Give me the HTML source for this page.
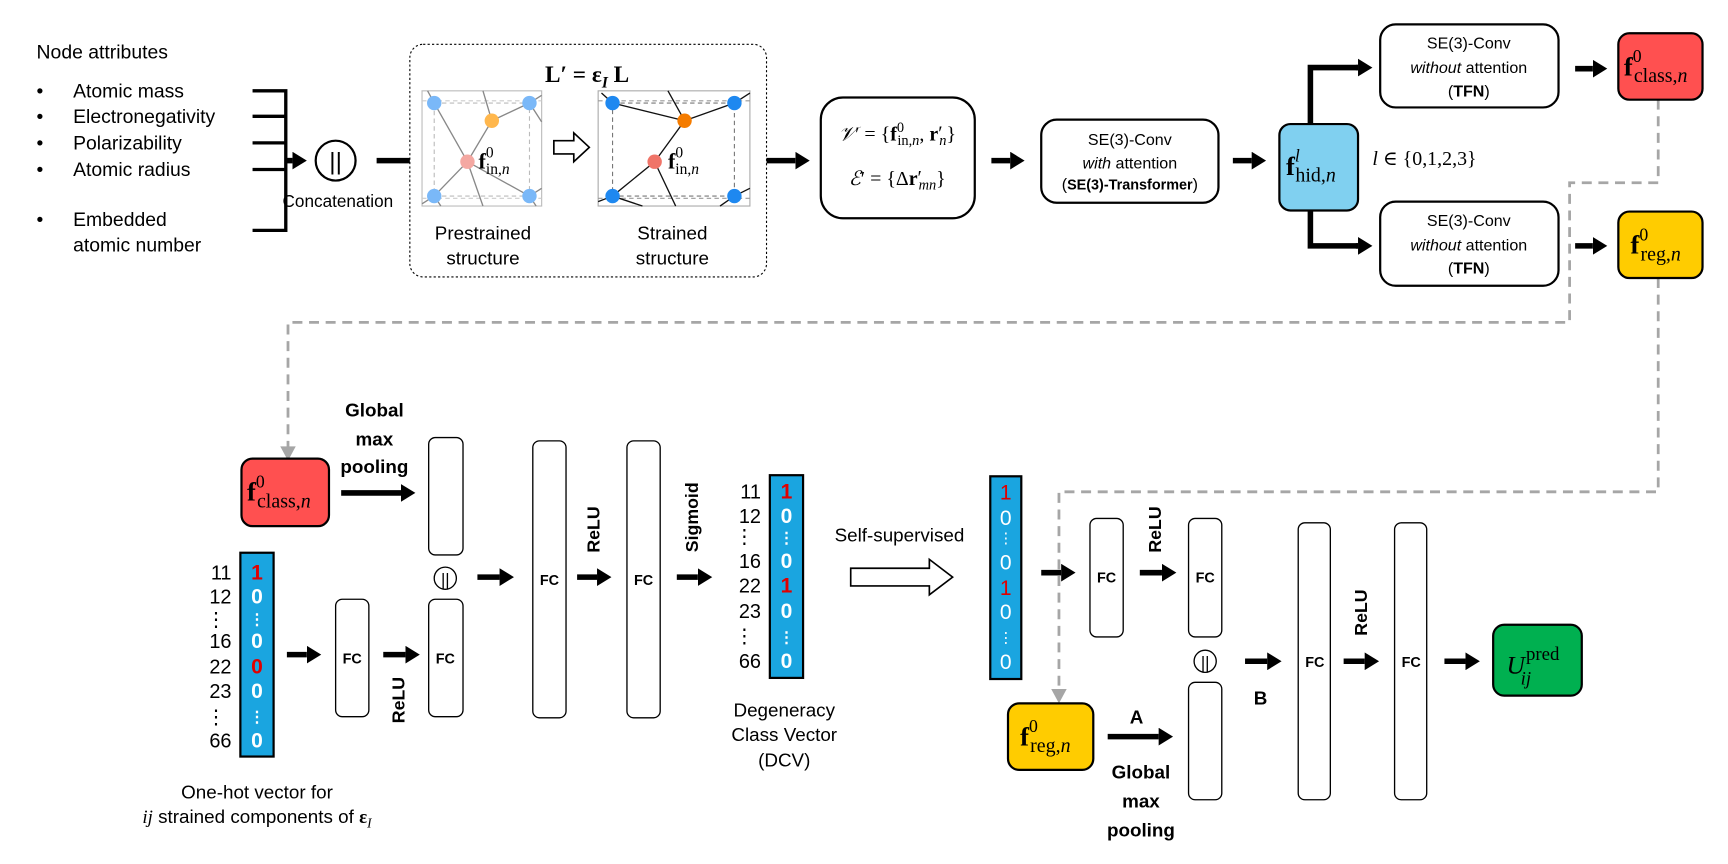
<!DOCTYPE html>
<html><head><meta charset="utf-8"><style>
html,body{margin:0;padding:0;background:#fff;}
svg{display:block;}
text{font-family:"Liberation Sans",Arial,sans-serif;}
.s{font-family:"Liberation Serif","DejaVu Serif",serif;}
.b{font-weight:bold;}
</style></head><body>
<svg width="1728" height="864" viewBox="0 0 1560 780" xmlns="http://www.w3.org/2000/svg">
<defs>
<marker id="ah" markerUnits="userSpaceOnUse" markerWidth="14" markerHeight="16" refX="0" refY="8" orient="auto">
<path d="M0,0 L13,8 L0,16 Z" fill="#000"/></marker>
</defs>
<rect width="1560" height="780" fill="#fff"/>

<g font-size="17.5" fill="#000">
<text x="33" y="53">Node attributes</text>
<text x="33" y="88">•</text><text x="66" y="88">Atomic mass</text>
<text x="33" y="111">•</text><text x="66" y="111">Electronegativity</text>
<text x="33" y="135">•</text><text x="66" y="135">Polarizability</text>
<text x="33" y="159">•</text><text x="66" y="159">Atomic radius</text>
<text x="33" y="204">•</text><text x="66" y="204">Embedded</text>
<text x="66" y="227">atomic number</text>
</g>
<g stroke="#000" stroke-width="3" fill="none">
<path d="M228,82 H258 M228,105 H258 M228,129 H258 M228,153 H258 M228,208 H259 M258,80.5 V209.5"/>
</g>
<line x1="258" y1="145" x2="264" y2="145" stroke="#000" stroke-width="5" marker-end="url(#ah)"/>
<circle cx="303" cy="145" r="18" fill="#fff" stroke="#000" stroke-width="2"/>
<text x="303" y="153" font-size="22" text-anchor="middle">||</text>
<text x="305" y="187" font-size="15.5" text-anchor="middle">Concatenation</text>
<line x1="340" y1="145" x2="370" y2="145" stroke="#000" stroke-width="5"/>

<rect x="370" y="40" width="322" height="210" rx="12" fill="none" stroke="#000" stroke-width="1" stroke-dasharray="2,2"/>
<text x="530" y="74" font-size="21" class="s b" text-anchor="middle">L′ = ε<tspan font-size="14" font-style="italic" dy="5">I</tspan><tspan dy="-5"> L</tspan></text>

<rect x="381" y="82" width="108" height="104" fill="#fff" stroke="#bbb" stroke-width="1"/>
<rect x="392" y="93" width="86" height="84" fill="none" stroke="#bbb" stroke-width="1" stroke-dasharray="4,3"/>
<line x1="381" y1="91" x2="489" y2="91" stroke="#ccc" stroke-dasharray="4,3"/>
<line x1="381" y1="179" x2="489" y2="179" stroke="#ccc" stroke-dasharray="4,3"/>
<g stroke="#888" stroke-width="1.2">
<line x1="392" y1="93" x2="422" y2="146"/><line x1="422" y1="146" x2="444" y2="109"/>
<line x1="444" y1="109" x2="478" y2="93"/><line x1="436" y1="82" x2="444" y2="109"/>
<line x1="392" y1="93" x2="386" y2="82"/><line x1="422" y1="146" x2="392" y2="177"/>
<line x1="422" y1="146" x2="478" y2="177"/><line x1="422" y1="146" x2="436" y2="186"/>
<line x1="478" y1="93" x2="489" y2="86"/><line x1="392" y1="177" x2="381" y2="184"/>
<line x1="478" y1="177" x2="489" y2="170"/><line x1="392" y1="177" x2="398" y2="186"/>
<line x1="478" y1="93" x2="489" y2="110"/><line x1="478" y1="177" x2="484" y2="186"/>
</g>
<circle cx="392" cy="93" r="6.5" fill="#7ab8f8"/><circle cx="478" cy="93" r="6.5" fill="#7ab8f8"/>
<circle cx="392" cy="177" r="6.5" fill="#7ab8f8"/><circle cx="478" cy="177" r="6.5" fill="#7ab8f8"/>
<circle cx="444" cy="109" r="6.5" fill="#ffb74d"/><circle cx="422" cy="146" r="6.5" fill="#f4a8a2"/>
<text x="432" y="152" font-size="20" class="s b">f<tspan font-size="14" font-weight="normal" dy="-10">0</tspan><tspan font-size="14" font-weight="normal" dx="-7" dy="15">in,<tspan font-style="italic">n</tspan></tspan></text>

<path d="M500,127 H518 V120 L532,133 L518,146 V139 H500 Z" fill="#fff" stroke="#000" stroke-width="1.5"/>

<rect x="540" y="82" width="137" height="104" fill="#fff" stroke="#aaa" stroke-width="1"/>
<rect x="553" y="93" width="110" height="84" fill="none" stroke="#777" stroke-width="1" stroke-dasharray="4,3"/>
<line x1="540" y1="91" x2="677" y2="91" stroke="#999" stroke-dasharray="4,3"/>
<line x1="540" y1="179" x2="677" y2="179" stroke="#999" stroke-dasharray="4,3"/>
<g stroke="#111" stroke-width="1.2">
<line x1="553" y1="93" x2="618" y2="109"/><line x1="618" y1="109" x2="663" y2="93"/>
<line x1="603" y1="82" x2="618" y2="109"/><line x1="618" y1="109" x2="591" y2="146"/>
<line x1="591" y1="146" x2="553" y2="177"/><line x1="591" y1="146" x2="610" y2="186"/>
<line x1="553" y1="93" x2="543" y2="84"/><line x1="663" y1="93" x2="677" y2="84"/>
<line x1="553" y1="177" x2="540" y2="182"/><line x1="553" y1="177" x2="580" y2="186"/>
<line x1="663" y1="177" x2="677" y2="170"/><line x1="663" y1="177" x2="650" y2="186"/>
</g>
<circle cx="553" cy="93" r="6.5" fill="#1e88f0"/><circle cx="663" cy="93" r="6.5" fill="#1e88f0"/>
<circle cx="553" cy="177" r="6.5" fill="#1e88f0"/><circle cx="663" cy="177" r="6.5" fill="#1e88f0"/>
<circle cx="618" cy="109" r="6.5" fill="#f57c00"/><circle cx="591" cy="146" r="6.5" fill="#f07468"/>
<text x="603" y="152" font-size="20" class="s b">f<tspan font-size="14" font-weight="normal" dy="-10">0</tspan><tspan font-size="14" font-weight="normal" dx="-7" dy="15">in,<tspan font-style="italic">n</tspan></tspan></text>

<g font-size="17" text-anchor="middle">
<text x="436" y="216">Prestrained</text><text x="436" y="239">structure</text>
<text x="607" y="216">Strained</text><text x="607" y="239">structure</text>
</g>

<line x1="692" y1="145" x2="718" y2="145" stroke="#000" stroke-width="5" marker-end="url(#ah)"/>
<rect x="741" y="88" width="139" height="109" rx="20" fill="#fff" stroke="#000" stroke-width="2"/>
<text x="810" y="127" font-size="18" class="s" text-anchor="middle"><tspan font-style="italic">𝒱</tspan>′ = {<tspan font-weight="bold">f</tspan><tspan font-size="13" dy="-8">0</tspan><tspan font-size="13" dx="-6" dy="12">in,<tspan font-style="italic">n</tspan></tspan><tspan dy="-4">, </tspan><tspan font-weight="bold">r</tspan><tspan dy="-1">′</tspan><tspan font-size="13" font-style="italic" dx="-3" dy="5">n</tspan><tspan dy="-4">}</tspan></text>
<text x="810" y="167" font-size="18" class="s" text-anchor="middle"><tspan font-style="italic">ℰ</tspan>′ = {Δ<tspan font-weight="bold">r</tspan><tspan dy="-1">′</tspan><tspan font-size="13" font-style="italic" dx="-3" dy="5">mn</tspan><tspan dy="-4">}</tspan></text>

<line x1="895" y1="145" x2="912" y2="145" stroke="#000" stroke-width="5" marker-end="url(#ah)"/>
<rect x="940" y="108" width="160" height="75" rx="14" fill="#fff" stroke="#000" stroke-width="2"/>
<g font-size="14.5" text-anchor="middle">
<text x="1020" y="131">SE(3)-Conv</text>
<text x="1020" y="152"><tspan font-style="italic">with</tspan> attention</text>
<text x="1020" y="171">(<tspan font-weight="bold" font-size="13">SE(3)-Transformer</tspan>)</text>
</g>
<line x1="1113" y1="145" x2="1130" y2="145" stroke="#000" stroke-width="5" marker-end="url(#ah)"/>
<rect x="1155" y="112" width="71" height="78" rx="10" fill="#80d0f0" stroke="#000" stroke-width="2"/>
<text x="1161" y="158" font-size="24" class="s b">f<tspan font-size="16" font-weight="normal" font-style="italic" dy="-12">l</tspan><tspan font-size="18" font-weight="normal" dx="-4" dy="18">hid,<tspan font-style="italic">n</tspan></tspan></text>
<text x="1239" y="149" font-size="18" class="s"><tspan font-style="italic">l</tspan> ∈ {0,1,2,3}</text>

<path d="M1183,112 V61 H1226" fill="none" stroke="#000" stroke-width="5"/>
<line x1="1224" y1="61" x2="1226" y2="61" stroke="#000" stroke-width="5" marker-end="url(#ah)"/>
<path d="M1183,190 V222 H1226" fill="none" stroke="#000" stroke-width="5"/>
<line x1="1224" y1="222" x2="1226" y2="222" stroke="#000" stroke-width="5" marker-end="url(#ah)"/>

<rect x="1246" y="22" width="161" height="75" rx="14" fill="#fff" stroke="#000" stroke-width="2"/>
<rect x="1246" y="182" width="161" height="76" rx="14" fill="#fff" stroke="#000" stroke-width="2"/>
<g font-size="14.5" text-anchor="middle">
<text x="1326" y="44">SE(3)-Conv</text><text x="1326" y="66"><tspan font-style="italic">without</tspan> attention</text><text x="1326" y="87">(<tspan font-weight="bold">TFN</tspan>)</text>
<text x="1326" y="204">SE(3)-Conv</text><text x="1326" y="226"><tspan font-style="italic">without</tspan> attention</text><text x="1326" y="247">(<tspan font-weight="bold">TFN</tspan>)</text>
</g>

<g fill="none" stroke="#a6a6a6" stroke-width="2.5" stroke-dasharray="9,6">
<path d="M1497,90 V165 H1417 V291 H260 V405"/>
<path d="M1497,251 V444 H956 V625"/>
</g>
<path d="M253,403 L260,416 L267,403 Z" fill="#a6a6a6"/>
<path d="M949,622 L956,635 L963,622 Z" fill="#a6a6a6"/>

<line x1="1422" y1="62" x2="1438" y2="62" stroke="#000" stroke-width="5" marker-end="url(#ah)"/>
<line x1="1422" y1="222" x2="1438" y2="222" stroke="#000" stroke-width="5" marker-end="url(#ah)"/>
<rect x="1461" y="30" width="76" height="60" rx="10" fill="#ff5050" stroke="#000" stroke-width="2"/>
<text x="1466" y="68" font-size="24" class="s b">f<tspan font-size="16" font-weight="normal" dy="-12">0</tspan><tspan font-size="18" font-weight="normal" dx="-7" dy="18">class,<tspan font-style="italic">n</tspan></tspan></text>
<rect x="1461" y="191" width="76" height="60" rx="10" fill="#ffcc00" stroke="#000" stroke-width="2"/>
<text x="1472" y="229" font-size="24" class="s b">f<tspan font-size="16" font-weight="normal" dy="-12">0</tspan><tspan font-size="18" font-weight="normal" dx="-7" dy="18">reg,<tspan font-style="italic">n</tspan></tspan></text>

<rect x="218" y="414" width="79" height="61" rx="10" fill="#ff5050" stroke="#000" stroke-width="2"/>
<text x="223" y="452" font-size="24" class="s b">f<tspan font-size="16" font-weight="normal" dy="-12">0</tspan><tspan font-size="18" font-weight="normal" dx="-7" dy="18">class,<tspan font-style="italic">n</tspan></tspan></text>
<g font-size="17" font-weight="bold" text-anchor="middle">
<text x="338" y="376">Global</text><text x="338" y="402">max</text><text x="338" y="427">pooling</text>
</g>
<line x1="308" y1="445" x2="362" y2="445" stroke="#000" stroke-width="5" marker-end="url(#ah)"/>

<g fill="#fff" stroke="#000" stroke-width="1.2">
<rect x="387" y="395" width="31" height="106" rx="6"/>
<rect x="387" y="541" width="31" height="106" rx="6"/>
<rect x="303" y="541" width="30" height="106" rx="6"/>
<rect x="481" y="398" width="30" height="250" rx="6"/>
<rect x="566" y="398" width="30" height="250" rx="6"/>
<rect x="984" y="468" width="30" height="107" rx="6"/>
<rect x="1073" y="468" width="30" height="107" rx="6"/>
<rect x="1073" y="616" width="30" height="106" rx="6"/>
<rect x="1172" y="472" width="29" height="250" rx="6"/>
<rect x="1259" y="472" width="29" height="250" rx="6"/>
</g>
<circle cx="402" cy="522" r="10" fill="#fff" stroke="#000" stroke-width="1.2"/>
<text x="402" y="528" font-size="15" text-anchor="middle">||</text>
<circle cx="1088" cy="597" r="10" fill="#fff" stroke="#000" stroke-width="1.2"/>
<text x="1088" y="603" font-size="15" text-anchor="middle">||</text>

<g font-size="13" font-weight="bold" text-anchor="middle">
<text x="402" y="599">FC</text><text x="318" y="599">FC</text>
<text x="496" y="528">FC</text><text x="581" y="528">FC</text>
<text x="999" y="526">FC</text><text x="1088" y="526">FC</text>
<text x="1187" y="602">FC</text><text x="1274" y="602">FC</text>
</g>
<g font-size="16" font-weight="bold" text-anchor="middle">
<text transform="translate(365,632) rotate(-90)">ReLU</text>
<text transform="translate(541,478) rotate(-90)">ReLU</text>
<text transform="translate(630,467) rotate(-90)">Sigmoid</text>
<text transform="translate(1048,478) rotate(-90)">ReLU</text>
<text transform="translate(1234,553) rotate(-90)">ReLU</text>
</g>

<g stroke="#000" stroke-width="5">
<line x1="259" y1="591" x2="277" y2="591" marker-end="url(#ah)"/>
<line x1="346" y1="591" x2="366" y2="591" marker-end="url(#ah)"/>
<line x1="431" y1="521" x2="451" y2="521" marker-end="url(#ah)"/>
<line x1="521" y1="521" x2="539" y2="521" marker-end="url(#ah)"/>
<line x1="611" y1="521" x2="630" y2="521" marker-end="url(#ah)"/>
<line x1="940" y1="517" x2="958" y2="517" marker-end="url(#ah)"/>
<line x1="1029" y1="517" x2="1049" y2="517" marker-end="url(#ah)"/>
<line x1="1124" y1="597" x2="1144" y2="597" marker-end="url(#ah)"/>
<line x1="1213" y1="597" x2="1232" y2="597" marker-end="url(#ah)"/>
<line x1="1304" y1="597" x2="1323" y2="597" marker-end="url(#ah)"/>
<line x1="1000" y1="665" x2="1046" y2="665" marker-end="url(#ah)"/>
</g>

<rect x="217" y="499" width="30" height="184" fill="#1aa5e0" stroke="#000" stroke-width="2"/>
<g font-size="18" class="s" text-anchor="end">
<text x="209" y="523">11</text><text x="209" y="545">12</text><text x="204" y="565">⋮</text>
<text x="209" y="585">16</text><text x="209" y="608">22</text><text x="209" y="630">23</text>
<text x="204" y="653">⋮</text><text x="209" y="675">66</text>
</g>
<g font-size="19" class="s b" text-anchor="middle" fill="#fff">
<text x="232" y="523" fill="#e00000">1</text><text x="232" y="545">0</text><text x="232" y="564" font-size="14">⋮</text>
<text x="232" y="585">0</text><text x="232" y="608" fill="#e00000">0</text><text x="232" y="630">0</text>
<text x="232" y="652" font-size="14">⋮</text><text x="232" y="675">0</text>
</g>
<g font-size="17" text-anchor="middle">
<text x="232" y="721">One-hot vector for</text>
<text x="232" y="743"><tspan class="s" font-style="italic">ij</tspan> strained components of <tspan class="s" font-weight="bold">ε</tspan><tspan class="s" font-style="italic" font-size="12" dy="4">I</tspan></text>
</g>

<rect x="695" y="429" width="30" height="183" fill="#1aa5e0" stroke="#000" stroke-width="2"/>
<g font-size="18" class="s" text-anchor="end">
<text x="687" y="450">11</text><text x="687" y="472">12</text><text x="681" y="490">⋮</text>
<text x="687" y="513">16</text><text x="687" y="535">22</text><text x="687" y="558">23</text>
<text x="681" y="580">⋮</text><text x="687" y="603">66</text>
</g>
<g font-size="19" class="s b" text-anchor="middle" fill="#fff">
<text x="710" y="450" fill="#e00000">1</text><text x="710" y="472">0</text><text x="710" y="490" font-size="14">⋮</text>
<text x="710" y="513">0</text><text x="710" y="535" fill="#e00000">1</text><text x="710" y="558">0</text>
<text x="710" y="580" font-size="14">⋮</text><text x="710" y="603">0</text>
</g>
<g font-size="17" text-anchor="middle">
<text x="708" y="647">Degeneracy</text><text x="708" y="669">Class Vector</text><text x="708" y="692">(DCV)</text>
<text x="812" y="489">Self-supervised</text>
</g>
<path d="M768,513 H839 V505 L860,521 L839,537 V529 H768 Z" fill="#fff" stroke="#000" stroke-width="1.5"/>

<rect x="894" y="430" width="28" height="183" fill="#1aa5e0" stroke="#000" stroke-width="2"/>
<g font-size="19" class="s" text-anchor="middle" fill="#fff">
<text x="908" y="451" fill="#e00000">1</text><text x="908" y="474">0</text><text x="908" y="490" font-size="13">⋮</text>
<text x="908" y="514">0</text><text x="908" y="537" fill="#e00000">1</text><text x="908" y="559">0</text>
<text x="908" y="580" font-size="13">⋮</text><text x="908" y="604">0</text>
</g>

<rect x="910" y="635" width="77" height="60" rx="10" fill="#ffcc00" stroke="#000" stroke-width="2"/>
<text x="921" y="673" font-size="24" class="s b">f<tspan font-size="16" font-weight="normal" dy="-12">0</tspan><tspan font-size="18" font-weight="normal" dx="-7" dy="18">reg,<tspan font-style="italic">n</tspan></tspan></text>
<g font-size="17" font-weight="bold" text-anchor="middle">
<text x="1026" y="653">A</text>
<text x="1138" y="636">B</text>
<text x="1030" y="703">Global</text><text x="1030" y="729">max</text><text x="1030" y="755">pooling</text>
</g>

<rect x="1348" y="564" width="80" height="64" rx="10" fill="#00b050" stroke="#000" stroke-width="2"/>
<text x="1360" y="608" font-size="23" class="s" font-style="italic">U<tspan font-style="normal" font-size="17" dx="1" dy="-12">pred</tspan><tspan font-size="17" dx="-35" dy="22">ij</tspan></text>
</svg>
</body></html>
